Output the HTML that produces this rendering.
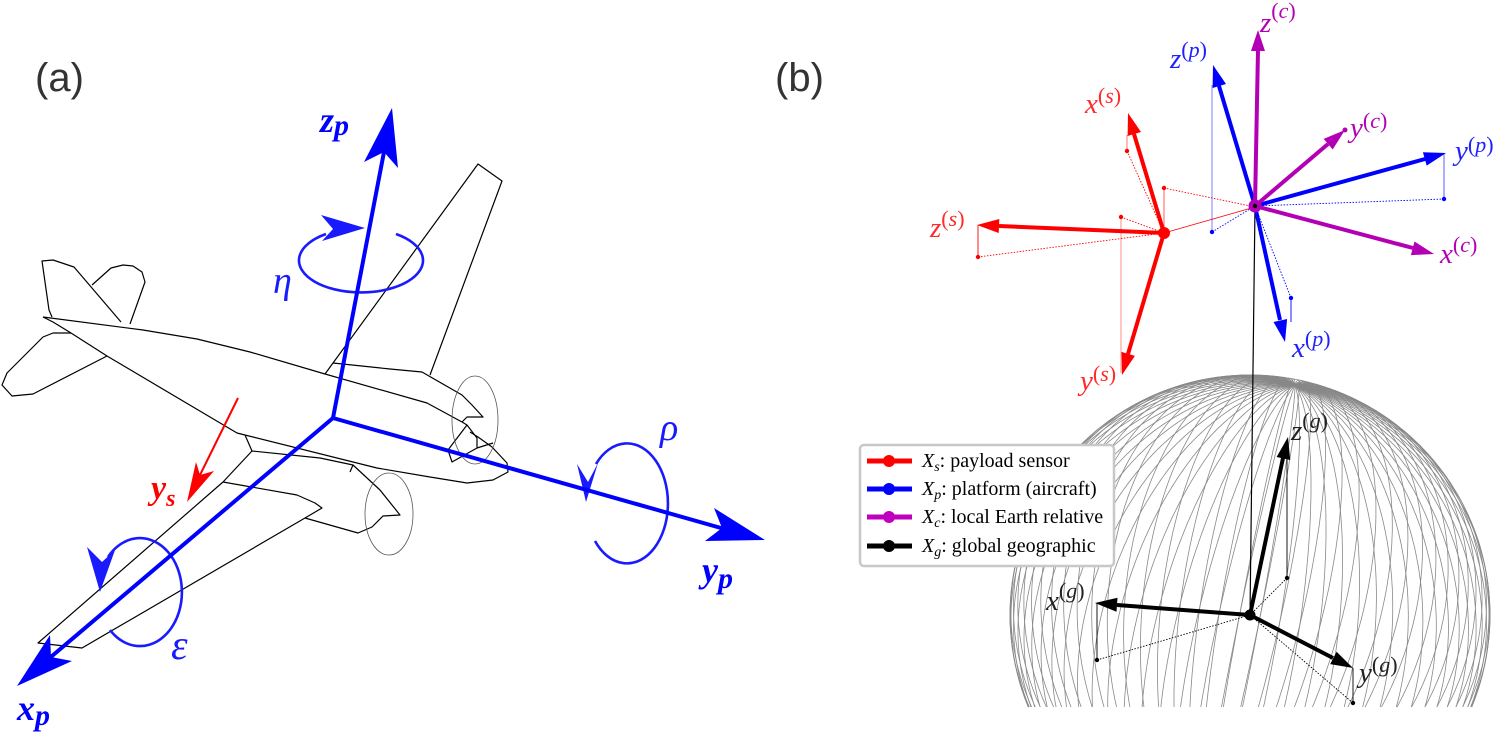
<!DOCTYPE html>
<html><head><meta charset="utf-8"><style>
html,body{margin:0;padding:0;background:#fff;width:1497px;height:737px;overflow:hidden;}
svg{display:block;}
.ser{font-family:"Liberation Serif",serif;}
</style></head><body>
<svg width="1497" height="737" viewBox="0 0 1497 737" xmlns="http://www.w3.org/2000/svg">
<defs><clipPath id="cp"><rect x="0" y="0" width="1497" height="707"/></clipPath></defs>
<rect width="1497" height="737" fill="#fff"/>

<!-- panel labels -->
<text x="35" y="91" font-family="Liberation Sans, sans-serif" font-size="40" fill="#333">(a)</text>
<text x="775" y="91" font-family="Liberation Sans, sans-serif" font-size="40" fill="#333">(b)</text>

<!-- ===== (a) airplane ===== -->
<g fill="none" stroke="#000" stroke-width="1.2" stroke-linejoin="round">
<path d="M52,317 L49,310 L42,261 L53,260 L74,267 L121,322"/>
<path d="M92,285 L111,268 L123,265 L133,266 L142,272 L145,282 L130,324"/>
<path d="M43,317 L143,330 L197,339 L250,352 L325,374 L427,403 L462,422"/>
<path d="M43,317 L53,322 L71,333 L107,356"/>
<path d="M71,333 L53,333 L43,337 L7,373 L2,385 L12,396 L33,394 L107,356"/>
<path d="M107,356 L237,433 L245,435 L377,468 L430,477 L467,483 L493,480 L508,472 L507,463 L492,447 L478,437 L470,432"/>
<path d="M245,435 L252,451 L320,458 L353,465 L350,472"/>
<path d="M325,374 L478,164 L502,181 L430,375"/>
<path d="M333,363 L390,369 L422,372 L462,395 L472,405 L483,417 L467,417 L462,422"/>
<path d="M252,451 L223,482 L38,643 L82,648 L305,518 L322,508 L315,503 L297,495 L223,482"/>
<path d="M305,518 L358,533 L372,527 L383,516 L400,515 L380,490 L353,465"/>
<path d="M462,422 L467,425 L477,438 L477,448 L452,462 L448,450 L467,425 M477,448 L493,443"/>
</g>
<g fill="none" stroke="#555" stroke-width="0.8">
<ellipse cx="475" cy="420" rx="23" ry="44"/>
<ellipse cx="389" cy="514" rx="24" ry="41"/>
</g>

<!-- (a) rotation arcs -->
<g fill="none" stroke="#1a1aff" stroke-width="2.6">
<path d="M396,234 A62,32 0 1,1 326,234"/>
<path d="M110,630 A42,54 0 1,0 108,557"/>
<path d="M595,541 A41,60 0 1,0 596,464"/>
</g>
<g fill="#1a1aff">
<polygon points="365,228 321,215 333,229 322,241"/>
<polygon points="100,592 87,547 102,562 115,550"/>
<polygon points="586,502 577,464 588,482 598,463"/>
</g>

<!-- (a) axes -->
<g stroke="#0000ff" stroke-width="4" fill="none" stroke-linecap="round">
<line x1="333" y1="418" x2="384" y2="152"/>
<line x1="333" y1="418" x2="52" y2="656"/>
<line x1="333" y1="418" x2="721" y2="528"/>
</g>
<g fill="#0000ff">
<polygon points="392,108 398,168 384,152 364,162"/>
<polygon points="17,686 50,635 51,657 72,661"/>
<polygon points="765,540 714,508 722,528 705,541"/>
</g>
<line x1="238" y1="398" x2="200" y2="475" stroke="#ff0000" stroke-width="2"/>
<polygon points="187,502 196,462 200,475 214,471" fill="#ff0000"/>

<g class="ser" font-style="italic" font-weight="bold" fill="#0000ff" font-size="36">
<text x="320" y="132">z<tspan dy="3" font-size="30">p</tspan></text>
<text x="17" y="720">x<tspan dy="5" font-size="30">p</tspan></text>
<text x="702" y="582">y<tspan dy="6" font-size="30">p</tspan></text>
</g>
<text x="151" y="499" class="ser" font-style="italic" font-weight="bold" font-size="34" fill="#ff0000">y<tspan dy="7" font-size="24">s</tspan></text>
<g class="ser" font-style="italic" fill="#1a1aff">
<text x="273" y="293" font-size="38">η</text>
<text x="171" y="659" font-size="42">ε</text>
<text x="660" y="440" font-size="38">ρ</text>
</g>

<!-- ===== (b) sphere (static fallback, replaced by script) ===== -->
<g id="sphStatic" clip-path="url(#cp)" fill="none" stroke="#888" stroke-width="0.8">
<circle cx="1250" cy="615" r="240" stroke-width="1"/>
<circle r="1" vector-effect="non-scaling-stroke" transform="matrix(45 -229.9 -234.8 -48.3 1250 615)"/>
<circle r="1" vector-effect="non-scaling-stroke" transform="matrix(45 -229.9 -227.7 -56.1 1250 615)"/>
<circle r="1" vector-effect="non-scaling-stroke" transform="matrix(45 -229.9 -213.8 -62.1 1250 615)"/>
<circle r="1" vector-effect="non-scaling-stroke" transform="matrix(45 -229.9 -193.2 -66.3 1250 615)"/>
<circle r="1" vector-effect="non-scaling-stroke" transform="matrix(45 -229.9 -166.8 -68.5 1250 615)"/>
<circle r="1" vector-effect="non-scaling-stroke" transform="matrix(45 -229.9 -135.5 -68.6 1250 615)"/>
<circle r="1" vector-effect="non-scaling-stroke" transform="matrix(45 -229.9 -99.8 -66.6 1250 615)"/>
<circle r="1" vector-effect="non-scaling-stroke" transform="matrix(45 -229.9 -61.3 -62.6 1250 615)"/>
<circle r="1" vector-effect="non-scaling-stroke" transform="matrix(45 -229.9 -20.8 -56.7 1250 615)"/>
<circle r="1" vector-effect="non-scaling-stroke" transform="matrix(45 -229.9 20.3 -49.0 1250 615)"/>
<circle r="1" vector-effect="non-scaling-stroke" transform="matrix(45 -229.9 60.8 -39.9 1250 615)"/>
<circle r="1" vector-effect="non-scaling-stroke" transform="matrix(45 -229.9 99.3 -29.6 1250 615)"/>
<circle r="1" vector-effect="non-scaling-stroke" transform="matrix(45 -229.9 134.9 -18.3 1250 615)"/>
<circle r="1" vector-effect="non-scaling-stroke" transform="matrix(45 -229.9 166.5 -6.5 1250 615)"/>
<circle r="1" vector-effect="non-scaling-stroke" transform="matrix(45 -229.9 192.9 5.5 1250 615)"/>
<circle r="1" vector-effect="non-scaling-stroke" transform="matrix(45 -229.9 213.5 17.3 1250 615)"/>
<circle r="1" vector-effect="non-scaling-stroke" transform="matrix(45 -229.9 227.6 28.6 1250 615)"/>
<circle r="1" vector-effect="non-scaling-stroke" transform="matrix(45 -229.9 235.7 43.8 1250 615)"/>
</g>
<g id="sph" fill="none" stroke="#888" stroke-width="0.8" stroke-linejoin="round"></g>

<!-- thin connector line from platform origin to earth origin -->
<line x1="1255" y1="206" x2="1250" y2="615" stroke="#000" stroke-width="1.2"/>

<!-- ===== (b) thin helper lines ===== -->
<g stroke-width="0.9" fill="none">
<g stroke="#ff0000">
<line x1="1127" y1="151" x2="1127" y2="135" opacity="0.6"/>
<line x1="1164" y1="188" x2="1164" y2="233" opacity="0.7"/>
<line x1="1121" y1="217" x2="1121" y2="373" opacity="0.5"/>
<line x1="978" y1="225" x2="978" y2="257"/>
<line x1="1164" y1="233" x2="1255" y2="207"/>
<g stroke-dasharray="1.5 1.5">
<line x1="1127" y1="151" x2="1164" y2="233"/>
<line x1="1164" y1="188" x2="1255" y2="207"/>
<line x1="1121" y1="217" x2="1164" y2="233"/>
<line x1="978" y1="257" x2="1164" y2="233"/>
</g>
</g>
<g stroke="#0000ff">
<line x1="1212" y1="85" x2="1212" y2="232" opacity="0.55"/>
<line x1="1444" y1="154" x2="1444" y2="199" opacity="0.7"/>
<line x1="1291" y1="298" x2="1291" y2="322"/>
<g stroke-dasharray="1.5 1.5">
<line x1="1212" y1="232" x2="1255" y2="206"/>
<line x1="1444" y1="199" x2="1255" y2="206"/>
<line x1="1291" y1="298" x2="1255" y2="206"/>
</g>
</g>
<g stroke="#000">
<line x1="1287" y1="578" x2="1287" y2="458"/>
<line x1="1097" y1="603" x2="1097" y2="660"/>
<line x1="1353" y1="668" x2="1353" y2="703"/>
<g stroke-dasharray="1.5 1.5">
<line x1="1287" y1="578" x2="1250" y2="615"/>
<line x1="1097" y1="660" x2="1250" y2="615"/>
<line x1="1353" y1="703" x2="1250" y2="615"/>
</g>
</g>
</g>
<g>
<circle cx="1127" cy="151" r="2.2" fill="#ff0000"/>
<circle cx="1164" cy="188" r="2.2" fill="#ff0000"/>
<circle cx="1121" cy="217" r="2.2" fill="#ff0000"/>
<circle cx="978" cy="257" r="2.2" fill="#ff0000"/>
<circle cx="1212" cy="232" r="2.2" fill="#0000ff"/>
<circle cx="1444" cy="199" r="2.2" fill="#0000ff"/>
<circle cx="1291" cy="298" r="2.2" fill="#0000ff"/>
<circle cx="1287" cy="578" r="2.2" fill="#000"/>
<circle cx="1097" cy="660" r="2.2" fill="#000"/>
<circle cx="1353" cy="703" r="2.2" fill="#000"/>
</g>

<!-- ===== (b) main axes ===== -->
<g stroke-width="4" fill="none">
<g stroke="#ff0000">
<line x1="1164" y1="233" x2="1134" y2="134"/>
<line x1="1164" y1="233" x2="999" y2="226"/>
<line x1="1164" y1="233" x2="1128" y2="354"/>
</g>
<g stroke="#0000ff">
<line x1="1255" y1="206" x2="1219" y2="86"/>
<line x1="1255" y1="206" x2="1425" y2="159"/>
<line x1="1255" y1="206" x2="1280" y2="320"/>
</g>
<g stroke="#b400b4">
<line x1="1255" y1="206" x2="1258" y2="50"/>
<line x1="1255" y1="206" x2="1328" y2="144"/>
<line x1="1255" y1="206" x2="1413" y2="248"/>
</g>
<g stroke="#000">
<line x1="1250" y1="615" x2="1283" y2="458"/>
<line x1="1250" y1="615" x2="1117" y2="605"/>
<line x1="1250" y1="615" x2="1333" y2="658"/>
</g>
</g>
<g>
<polygon fill="#ff0000" points="1128,113 1141,132 1127.6,136"/>
<polygon fill="#ff0000" points="977,225 999.3,219 998.7,233"/>
<polygon fill="#ff0000" points="1122,375 1134.9,355.9 1121.5,351.9"/>
<polygon fill="#0000ff" points="1213,65 1226,84 1212.6,88"/>
<polygon fill="#0000ff" points="1446,153 1426.7,165.6 1422.9,152.2"/>
<polygon fill="#0000ff" points="1285,342 1287.1,319 1273.5,322"/>
<polygon fill="#b400b4" points="1258,30 1265,51 1251,51"/>
<polygon fill="#b400b4" points="1345,130 1332.7,149.5 1323.7,138.9"/>
<polygon fill="#b400b4" points="1434,254 1410.9,255.1 1414.5,241.5"/>
<polygon fill="#000" points="1288,437 1290.2,460 1276.6,457"/>
<polygon fill="#000" points="1095,603 1117.5,597.7 1116.5,611.7"/>
<polygon fill="#000" points="1353,668 1330.2,664.1 1336.6,651.7"/>
<circle cx="1345" cy="130" r="2.5" fill="#b400b4"/>
<circle cx="1164" cy="233" r="6" fill="#ff0000"/>
<circle cx="1255" cy="206" r="6.5" fill="#b400b4"/>
<circle cx="1255" cy="206" r="2.2" fill="#000"/>
<circle cx="1250" cy="615" r="5.5" fill="#000"/>
</g>

<!-- ===== (b) axis labels ===== -->
<g class="ser" font-size="29">
<g fill="#ff2a2a">
<text x="1085" y="113"><tspan font-style="italic">x</tspan><tspan font-size="22" dy="-10">(<tspan font-style="italic">s</tspan>)</tspan></text>
<text x="930" y="237"><tspan font-style="italic">z</tspan><tspan font-size="22" dy="-11">(<tspan font-style="italic">s</tspan>)</tspan></text>
<text x="1080" y="390"><tspan font-style="italic">y</tspan><tspan font-size="22" dy="-9">(<tspan font-style="italic">s</tspan>)</tspan></text>
</g>
<g fill="#2020ff">
<text x="1170" y="68"><tspan font-style="italic">z</tspan><tspan font-size="22" dy="-11">(<tspan font-style="italic">p</tspan>)</tspan></text>
<text x="1455" y="160"><tspan font-style="italic">y</tspan><tspan font-size="22" dy="-8">(<tspan font-style="italic">p</tspan>)</tspan></text>
<text x="1292" y="357"><tspan font-style="italic">x</tspan><tspan font-size="22" dy="-11">(<tspan font-style="italic">p</tspan>)</tspan></text>
</g>
<g fill="#b400b4">
<text x="1260" y="32"><tspan font-style="italic">z</tspan><tspan font-size="22" dy="-14">(<tspan font-style="italic">c</tspan>)</tspan></text>
<text x="1350" y="137"><tspan font-style="italic">y</tspan><tspan font-size="22" dy="-9">(<tspan font-style="italic">c</tspan>)</tspan></text>
<text x="1440" y="263"><tspan font-style="italic">x</tspan><tspan font-size="22" dy="-11">(<tspan font-style="italic">c</tspan>)</tspan></text>
</g>
<g fill="#222">
<text x="1291" y="440"><tspan font-style="italic">z</tspan><tspan font-size="22" dy="-12">(<tspan font-style="italic">g</tspan>)</tspan></text>
<text x="1046" y="610"><tspan font-style="italic">x</tspan><tspan font-size="22" dy="-12">(<tspan font-style="italic">g</tspan>)</tspan></text>
<text x="1359" y="682"><tspan font-style="italic">y</tspan><tspan font-size="22" dy="-10">(<tspan font-style="italic">g</tspan>)</tspan></text>
</g>
</g>

<!-- ===== legend ===== -->
<rect x="860" y="445" width="254" height="121" rx="4" fill="#fff" stroke="#c8c8c8" stroke-width="2.5"/>
<g stroke-width="5">
<line x1="867" y1="461" x2="912" y2="461" stroke="#ff0000"/>
<line x1="867" y1="489" x2="912" y2="489" stroke="#0000ff"/>
<line x1="867" y1="517" x2="912" y2="517" stroke="#bf00bf"/>
<line x1="867" y1="546" x2="912" y2="546" stroke="#000"/>
</g>
<circle cx="889" cy="461" r="6" fill="#ff0000"/>
<circle cx="889" cy="489" r="6" fill="#0000ff"/>
<circle cx="889" cy="517" r="6" fill="#bf00bf"/>
<circle cx="889" cy="546" r="6" fill="#000"/>
<g class="ser" font-size="20" fill="#000">
<text x="922" y="467"><tspan font-style="italic">X</tspan><tspan font-style="italic" font-size="14" dy="4">s</tspan><tspan dy="-4">: payload sensor</tspan></text>
<text x="922" y="495"><tspan font-style="italic">X</tspan><tspan font-style="italic" font-size="14" dy="4">p</tspan><tspan dy="-4">: platform (aircraft)</tspan></text>
<text x="922" y="523"><tspan font-style="italic">X</tspan><tspan font-style="italic" font-size="14" dy="4">c</tspan><tspan dy="-4">: local Earth relative</tspan></text>
<text x="922" y="552"><tspan font-style="italic">X</tspan><tspan font-style="italic" font-size="14" dy="4">g</tspan><tspan dy="-4">: global geographic</tspan></text>
</g>
</svg>
<script>
(function(){
var NS="http://www.w3.org/2000/svg";
var g=document.getElementById("sph");
var st=document.getElementById("sphStatic");
if(!g)return;
var P=[0.1875,-0.958],E1=[-0.9814,-0.1921],E2=[0.0417,-0.2130];
var R=240,CX=1250,CY=615,YM=707;
function add(pts){
  if(pts.length<2)return;
  var pl=document.createElementNS(NS,"polyline");
  pl.setAttribute("points",pts.map(function(a){return a[0].toFixed(1)+","+a[1].toFixed(1);}).join(" "));
  g.appendChild(pl);
}
function curve(f){
  var seg=[],prev=null,u;
  for(var i=0;i<=360;i++){
    var t=i*Math.PI/180, pt=f(t);
    if(pt[1]<=YM){
      if(prev&&prev[1]>YM){u=(YM-prev[1])/(pt[1]-prev[1]);seg.push([prev[0]+u*(pt[0]-prev[0]),YM]);}
      seg.push(pt);
    } else {
      if(prev&&prev[1]<=YM){u=(YM-prev[1])/(pt[1]-prev[1]);seg.push([prev[0]+u*(pt[0]-prev[0]),YM]);}
      add(seg);seg=[];
    }
    prev=pt;
  }
  add(seg);
}
for(var k=0;k<36;k++){
  var th=(2.5+5*k)*Math.PI/180;
  var Q=[Math.cos(th)*E1[0]+Math.sin(th)*E2[0],Math.cos(th)*E1[1]+Math.sin(th)*E2[1]];
  (function(Q){curve(function(t){return [CX+R*(P[0]*Math.cos(t)+Q[0]*Math.sin(t)),CY+R*(P[1]*Math.cos(t)+Q[1]*Math.sin(t))];});})(Q);
}
curve(function(t){return [CX+R*Math.cos(t),CY+R*Math.sin(t)];});
if(st&&g.childNodes.length>0)st.parentNode.removeChild(st);
})();
</script>
</body></html>
